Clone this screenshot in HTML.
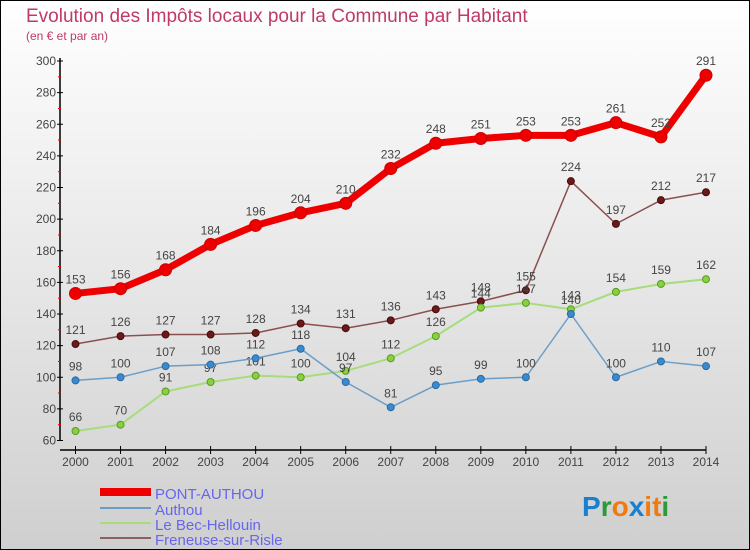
<!DOCTYPE html>
<html><head><meta charset="utf-8"><style>
body{margin:0;width:750px;height:550px;overflow:hidden}
svg{display:block;font-family:"Liberation Sans",sans-serif}
</style></head><body>
<svg id="c" width="750" height="550">
<defs><linearGradient id="bg" x1="0" y1="0" x2="0" y2="1"><stop offset="0" stop-color="#ffffff"/><stop offset="1" stop-color="#cfcfcf"/></linearGradient></defs>
<rect x="0.5" y="0.5" width="749" height="549" fill="url(#bg)" stroke="#000"/>
<text x="26" y="22" font-size="19" fill="#c0396a">Evolution des Impôts locaux pour la Commune par Habitant</text>
<text x="26" y="40" font-size="12" fill="#c0396a">(en € et par an)</text>
<g id="axes"></g><g id="series"></g>
<g>
<rect x="100" y="488" width="51" height="8" fill="#e00"/>
<text x="155" y="499" font-size="15" fill="#6666ee">PONT-AUTHOU</text>
<line x1="100" y1="508" x2="151" y2="508" stroke="#6a9ec8" stroke-width="2"/>
<text x="155" y="515" font-size="15" fill="#6666ee">Authou</text>
<line x1="100" y1="523" x2="151" y2="523" stroke="#a6dc7a" stroke-width="2"/>
<text x="155" y="530" font-size="15" fill="#6666ee">Le Bec-Hellouin</text>
<line x1="100" y1="538" x2="151" y2="538" stroke="#8a6060" stroke-width="2"/>
<text x="155" y="545" font-size="15" fill="#6666ee">Freneuse-sur-Risle</text>
</g>
<text x="582" y="516" font-size="28" font-weight="bold"><tspan fill="#1a7fd0">P</tspan><tspan fill="#2a9a3a">r</tspan><tspan fill="#f07a10">o</tspan><tspan fill="#1a7fd0">x</tspan><tspan fill="#f07a10">i</tspan><tspan fill="#f07a10">t</tspan><tspan fill="#2a9a3a">i</tspan></text>
</svg>
<script>
const years=[2000,2001,2002,2003,2004,2005,2006,2007,2008,2009,2010,2011,2012,2013,2014];
const pont=[153,156,168,184,196,204,210,232,248,251,253,253,261,252,291];
const authou=[98,100,107,108,112,118,97,81,95,99,100,140,100,110,107];
const bec=[66,70,91,97,101,100,104,112,126,144,147,143,154,159,162];
const freneuse=[121,126,127,127,128,134,131,136,143,148,155,224,197,212,217];
const yTicks=[60,80,100,120,140,160,180,200,220,240,260,280,300];
const NS="http://www.w3.org/2000/svg";
const X=i=>75.5+i*(706-75.5)/14;
const Y=v=>440.5-(v-60)*(440.5-61)/240;
function mk(t,a,p){const e=document.createElementNS(NS,t);for(const k in a)e.setAttribute(k,a[k]);p.appendChild(e);return e;}
const ax=document.getElementById('axes');
let e=mk('line',{x1:60,y1:58,x2:60,y2:441,stroke:'#000','stroke-width':1.5},ax);


e=mk('line',{x1:60,y1:450,x2:706,y2:450,stroke:'#000','stroke-width':1.5},ax);


yTicks.forEach(v=>{
 mk('line',{x1:57,y1:Y(v),x2:63,y2:Y(v),stroke:'#000'},ax);
 if(v<300)mk('line',{x1:58,y1:Y(v+10),x2:61,y2:Y(v+10),stroke:'#e00'},ax);
 const t=mk('text',{x:56,y:Y(v)+4,'font-size':12,fill:'#444','text-anchor':'end'},ax);t.textContent=v;
 
 
});
years.forEach((y,i)=>{
 mk('line',{x1:X(i),y1:446,x2:X(i),y2:454,stroke:'#000'},ax);
 const t=mk('text',{x:X(i),y:466,'font-size':12,fill:'#444','text-anchor':'middle'},ax);t.textContent=y;
 
 
});
const sg=document.getElementById('series');
function draw(d,name,col,w,dot,r,dotStroke){
 const g=mk('g',{},sg);
 
 
 mk('polyline',{points:d.map((v,i)=>X(i)+','+Y(v)).join(' '),fill:'none',stroke:col,'stroke-width':w,'stroke-linejoin':'round'},g);
 d.forEach((v,i)=>{
  const c=mk('circle',{cx:X(i),cy:Y(v),r:r,fill:dot,stroke:dotStroke,'stroke-width':1},g);
  
  
  const t=mk('text',{x:X(i),y:Y(v)-10,'font-size':12,fill:'#444','text-anchor':'middle'},g);t.textContent=v;
  
  
 });
}
draw(freneuse,'freneuse-sur-risle','#8a5050',1.5,'#6a1a1a',3.5,'#4a0a0a');
draw(bec,'le-bec-hellouin','#a6dc7a',2,'#88d040',3.5,'#5a9a20');
draw(authou,'authou','#6a9ec8',1.5,'#3a8ad0',3.5,'#2a6aa0');
draw(pont,'pont-authou','#ee0000',7,'#ee0000',6,'#cc0000');
</script>
</body></html>
